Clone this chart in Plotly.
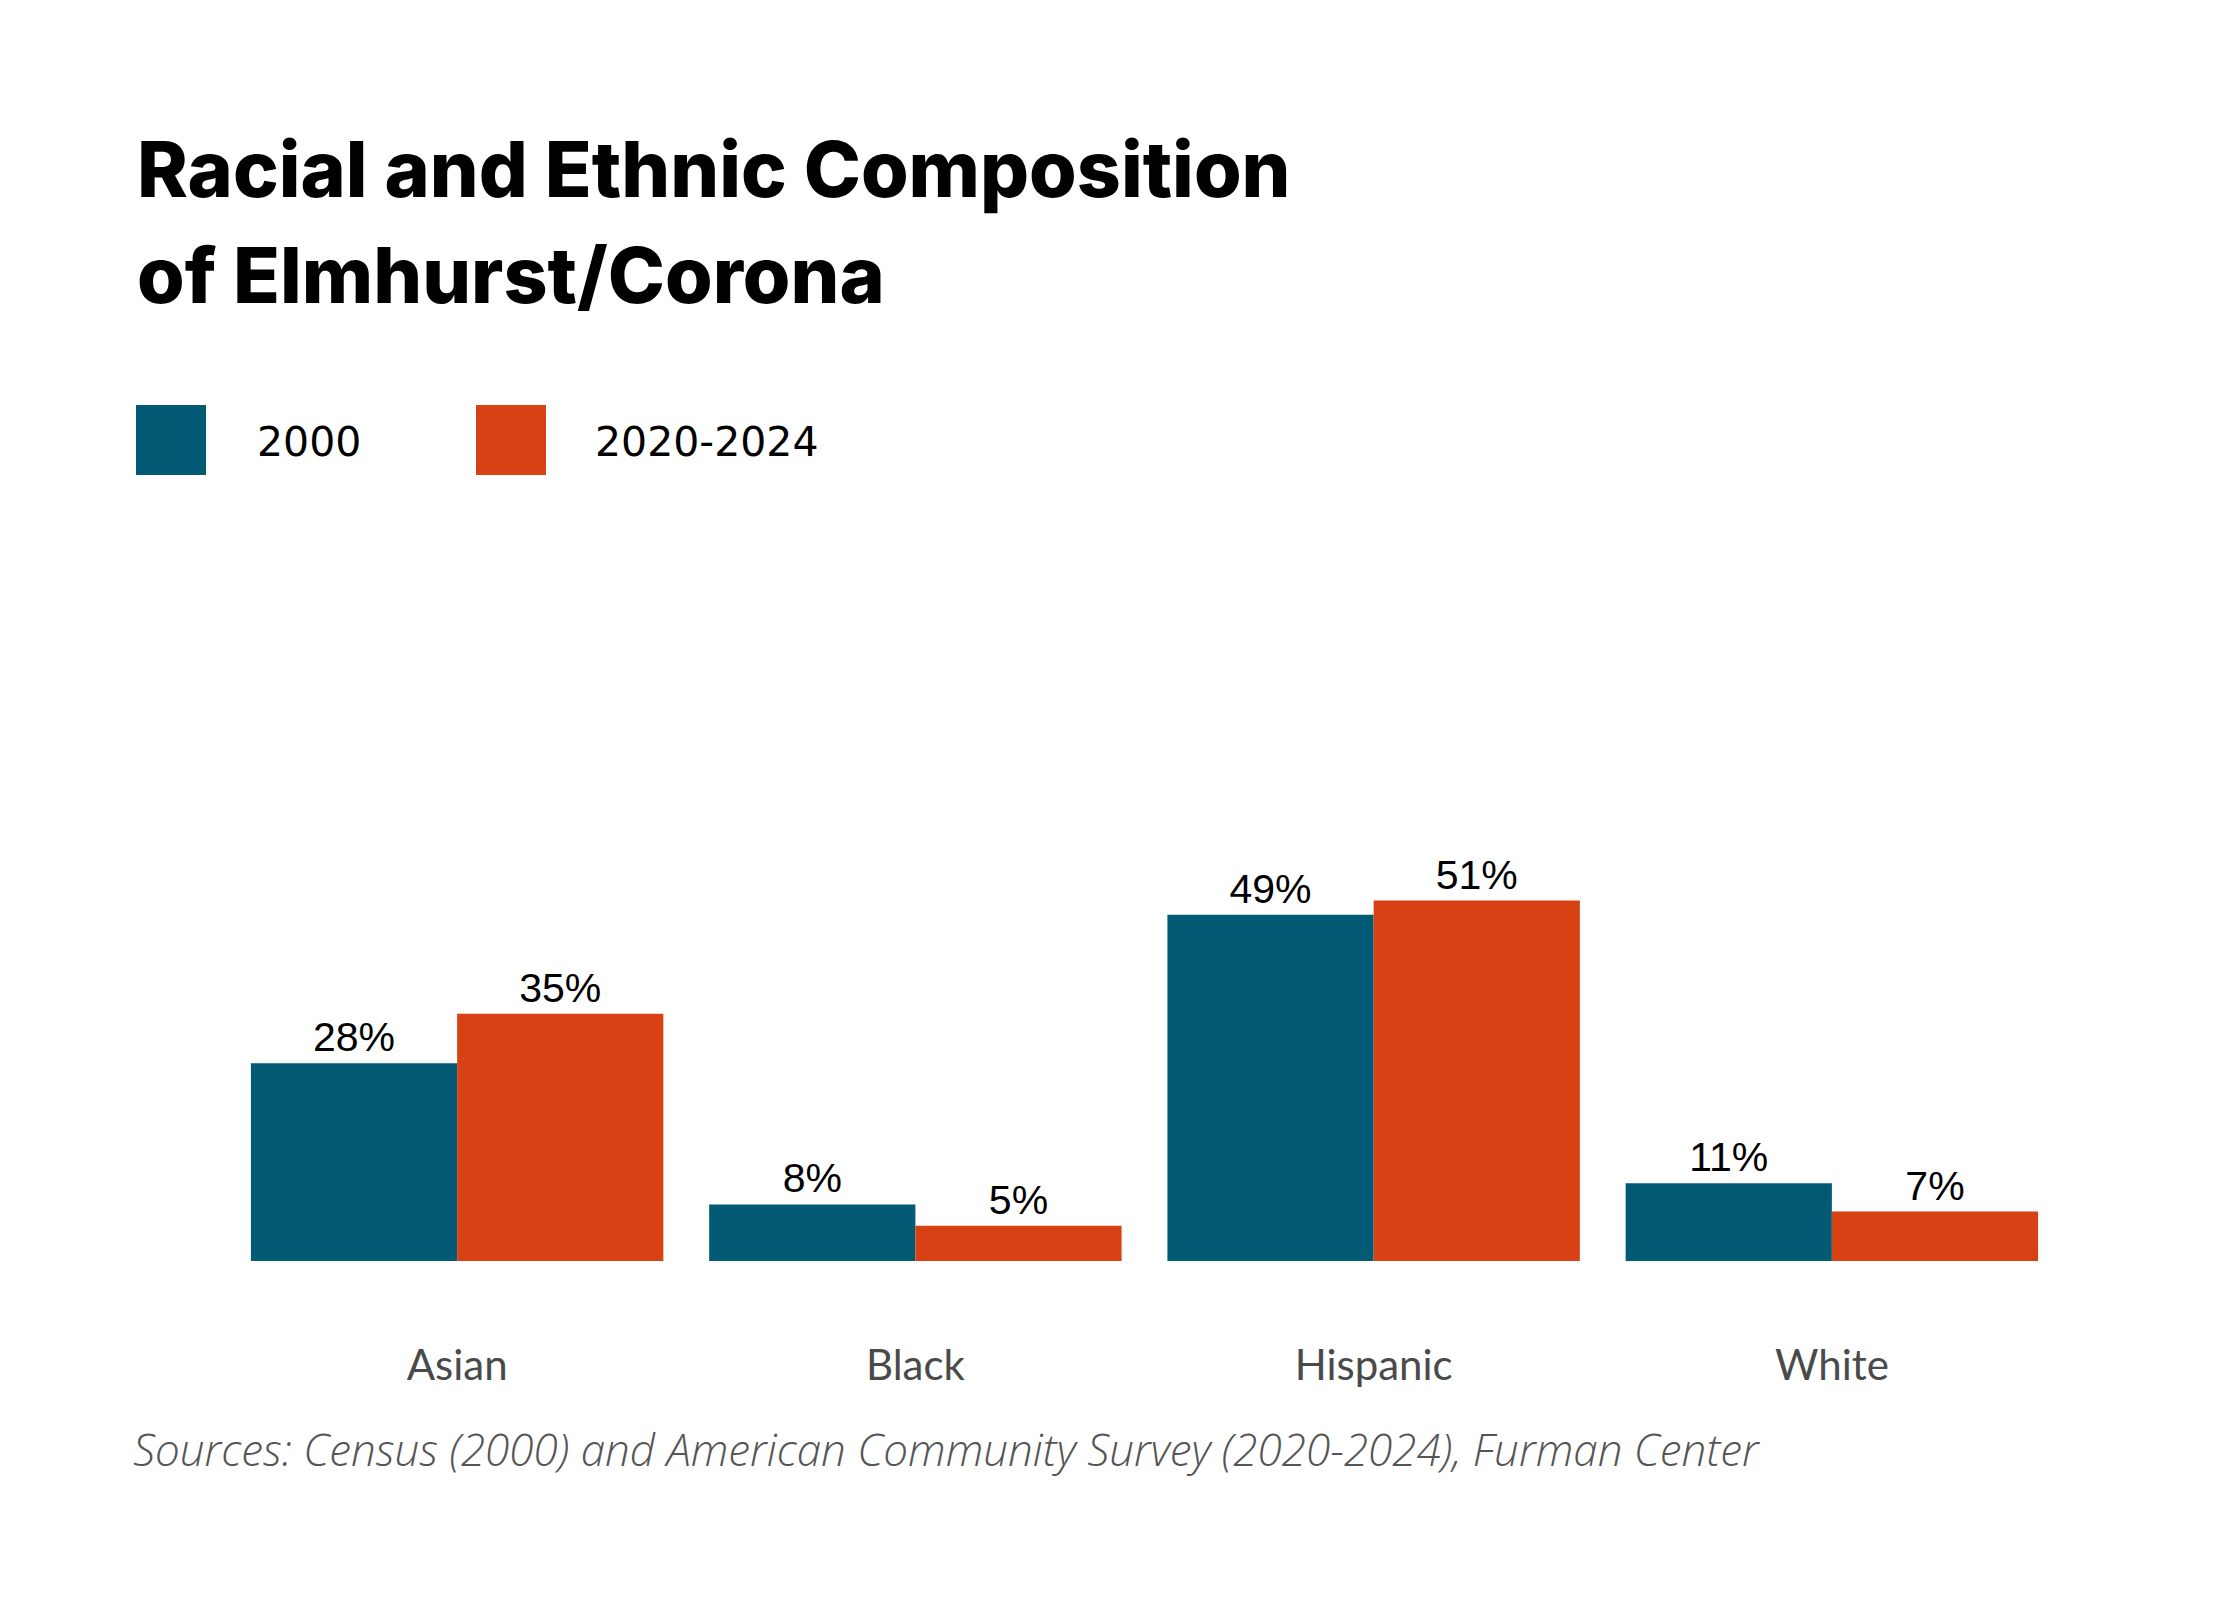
import plotly.graph_objects as go

# data
groups = ['Asian', 'Black', 'Hispanic', 'White']
share_2000 = [28, 8, 49, 11]
share_2020 = [35, 5, 51, 7]
series_names = ['2000', '2020-2024']
colors = ['#025a74', '#d84114']

W, H = 2240, 1600
# plot area in page pixels
L, R, T, B = 220, 2053, 829, 1253


def px(x):
    return (x - L) / (R - L)


def py(y):
    return (B - y) / (B - T)


fig = go.Figure()
for name, vals, col in zip(series_names, [share_2000, share_2020], colors):
    fig.add_trace(go.Bar(
        x=groups, y=vals, name=name, marker_color=col, marker_line_width=0,
        text=[f'{v}%' for v in vals], textposition='outside', cliponaxis=False,
        textfont=dict(family='Liberation Sans, Arial', size=41, color='#000000'),
    ))

# title, two lines placed separately for the wide line spacing
title_lines = ['Racial and Ethnic Composition', 'of Elmhurst/Corona']
for line, yc in zip(title_lines, [161, 267]):
    fig.add_annotation(text=line, xref='paper', yref='paper',
                       x=px(127), y=py(yc), xanchor='left', yanchor='middle',
                       showarrow=False,
                       font=dict(family='Inter', size=77, color='#000000', weight=800))

# legend drawn by hand (big squares)
legend_x = [128, 468]
legend_text_x = [247, 585]
for name, col, x0, xt in zip(series_names, colors, legend_x, legend_text_x):
    fig.add_shape(type='rect', xref='paper', yref='paper',
                  x0=px(x0), x1=px(x0 + 70), y0=py(467), y1=py(397),
                  fillcolor=col, line_width=0)
    fig.add_annotation(text=name, xref='paper', yref='paper',
                       x=px(xt), y=py(434), xanchor='left', yanchor='middle',
                       showarrow=False,
                       font=dict(family='DejaVu Sans', size=41, color='#000000'))

fig.add_annotation(
    text='<i>Sources: Census (2000) and American Community Survey (2020-2024), Furman Center</i>',
    xref='paper', yref='paper', x=px(123), y=py(1441), xanchor='left', yanchor='middle',
    showarrow=False,
    font=dict(family='Open Sans', size=44, color='#555555', weight=300))

fig.update_layout(
    width=W, height=H,
    margin=dict(l=L, r=W - R, t=T, b=H - B, autoexpand=False),
    paper_bgcolor='white', plot_bgcolor='white',
    barmode='group', bargap=0.1, bargroupgap=0,
    showlegend=False,
    xaxis=dict(showgrid=False, showline=False, zeroline=False, ticks='',
               ticklabelstandoff=76,
               tickfont=dict(family='Lato', size=42, color='#4a4a4a')),
    yaxis=dict(range=[0, 60], visible=False, showgrid=False, zeroline=False),
)

fig.write_html('out.html')
